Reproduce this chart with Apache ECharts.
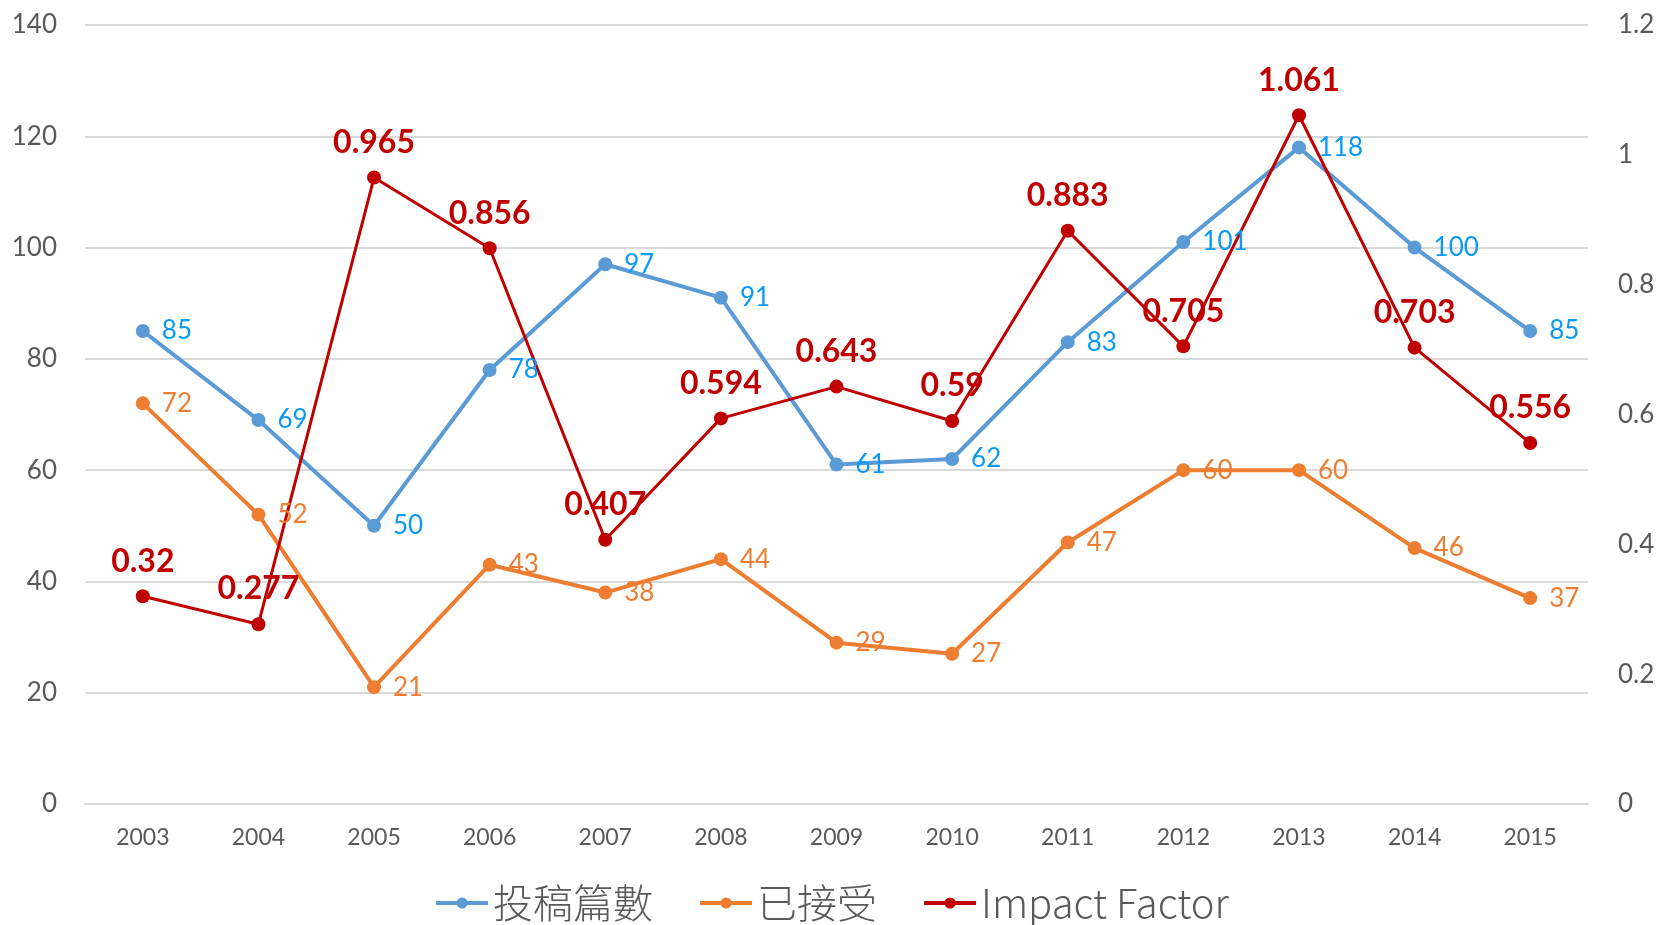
<!DOCTYPE html>
<html>
<head>
<meta charset="utf-8">
<script src="https://cdn.jsdelivr.net/npm/echarts@6/dist/echarts.min.js"></script>
<style>
  html, body { margin: 0; padding: 0; background: #fff; }
  #chart { width: 1663px; height: 925px; }
</style>
</head>
<body>
<div id="chart"></div>
<script>
const years = ['2003', '2004', '2005', '2006', '2007', '2008', '2009', '2010', '2011', '2012', '2013', '2014', '2015'];
const submitted = [85, 69, 50, 78, 97, 91, 61, 62, 83, 101, 118, 100, 85];
const accepted = [72, 52, 21, 43, 38, 44, 29, 27, 47, 60, 60, 46, 37];
const impactFactor = [0.32, 0.277, 0.965, 0.856, 0.407, 0.594, 0.643, 0.59, 0.883, 0.705, 1.061, 0.703, 0.556];

const numFont = 'Lato, "Noto Sans CJK TC", sans-serif';

const chart = echarts.init(document.getElementById('chart'));
chart.setOption({
  animation: false,
  backgroundColor: '#fff',
  grid: { left: 85, right: 75, top: 25, bottom: 121 },
  legend: {
    top: 878,
    left: 'center',
    itemWidth: 52,
    itemHeight: 14,
    itemGap: 45,
    lineStyle: { width: 4 },
    textStyle: { fontSize: 40, color: '#595959', fontFamily: '"Noto Sans CJK TC", sans-serif', fontWeight: 300 },
    data: ['投稿篇數', '已接受', 'Impact Factor'],
  },
  xAxis: {
    type: 'category',
    data: years,
    axisLine: { lineStyle: { color: '#D9D9D9', width: 2 } },
    axisTick: { show: false },
    axisLabel: { color: '#595959', fontSize: 23, fontFamily: numFont, margin: 22 },
  },
  yAxis: [
    {
      type: 'value',
      min: 0,
      max: 140,
      interval: 20,
      axisLine: { show: false },
      axisTick: { show: false },
      splitLine: { lineStyle: { color: '#D9D9D9', width: 2 } },
      axisLabel: { color: '#595959', fontSize: 26, fontFamily: numFont, margin: 28 },
    },
    {
      type: 'value',
      min: 0,
      max: 1.2,
      interval: 0.2,
      axisLine: { show: false },
      axisTick: { show: false },
      splitLine: { show: false },
      axisLabel: {
        color: '#595959', fontSize: 26, fontFamily: numFont, margin: 30,
        formatter: (v) => String(+v.toFixed(1)),
      },
    },
  ],
  series: [
    {
      name: '投稿篇數',
      type: 'line',
      data: submitted,
      symbol: 'circle',
      symbolSize: 14,
      itemStyle: { color: '#5B9BD5' },
      lineStyle: { color: '#5B9BD5', width: 4 },
      label: { show: true, position: 'right', distance: 12, color: '#0A9AF5', fontSize: 26, fontFamily: numFont },
    },
    {
      name: '已接受',
      type: 'line',
      data: accepted,
      symbol: 'circle',
      symbolSize: 14,
      itemStyle: { color: '#ED7D31' },
      lineStyle: { color: '#ED7D31', width: 4 },
      label: { show: true, position: 'right', distance: 12, color: '#ED7D31', fontSize: 26, fontFamily: numFont },
    },
    {
      name: 'Impact Factor',
      type: 'line',
      yAxisIndex: 1,
      data: impactFactor,
      symbol: 'circle',
      symbolSize: 14,
      itemStyle: { color: '#C00000' },
      lineStyle: { color: '#C00000', width: 3 },
      label: { show: true, position: 'top', distance: 12, color: '#C00000', fontSize: 32, fontWeight: 'bold', fontFamily: numFont },
    },
  ],
});
</script>
</body>
</html>
